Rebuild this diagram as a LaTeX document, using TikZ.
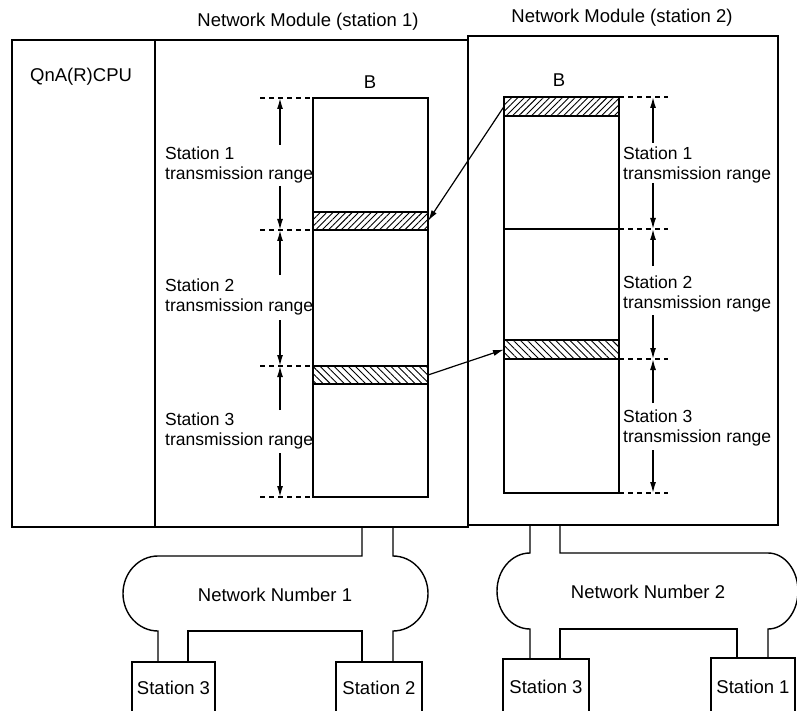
\documentclass[tikz,border=0pt]{standalone}
\usepackage{fontspec}
\setmainfont{Liberation Sans}
\usetikzlibrary{arrows.meta,patterns.meta}

\begin{document}
\begin{tikzpicture}[x=1pt,y=-1pt,
  box/.style={draw, line width=1.4pt, inner sep=0pt, outer sep=0pt},
  net/.style={line width=1.4pt},
  guide/.style={dash pattern=on 5pt off 4pt, line width=1.3pt},
  dimarrow/.style={-{Latex[length=11pt,width=6pt]}, line width=1.4pt},
  xfer/.style={-{Latex[length=11pt,width=6pt]}, line width=1.2pt},
  lbl/.style={font=\fontsize{17.5}{19.5}\selectfont, align=left, anchor=west, inner sep=0pt},
  big/.style={font=\fontsize{18.5}{22}\selectfont, inner sep=0pt},
  fwd/.style={pattern={Lines[angle=45,distance=4.5pt,line width=0.9pt]}},
  bwd/.style={pattern={Lines[angle=-45,distance=5pt,line width=0.9pt]}},
]
\useasboundingbox (0,0) rectangle (797,711);
\clip (0,0) rectangle (797,711);

% ---- titles ----
\node[big] (t1) at (308,22) {Network Module (station 1)};
\node[big] (t2) at (622,18) {Network Module (station 2)};

% ---- CPU and module frames ----
\node[box, anchor=north west, minimum width=143pt, minimum height=487pt] (cpu) at (12,40) {};
\node[box, anchor=north west, minimum width=313pt, minimum height=487pt] (mod1) at (155,40) {};
\node[box, anchor=north west, minimum width=310pt, minimum height=489pt] (mod2) at (468,36) {};
\node[big, anchor=west] (cpulbl) at (30,77) {QnA(R)CPU};

% ---- link device buffers B ----
\node[big] (ba) at (370,82) {B};
\node[big] (bb) at (559,80) {B};
\node[box, anchor=north west, minimum width=115pt, minimum height=399pt] (bufA) at (313,98) {};
\node[box, anchor=north west, minimum width=115pt, minimum height=396pt] (bufB) at (504,97) {};

% hatched ranges
\node[box, fwd, anchor=north west, minimum width=115pt, minimum height=18pt] (a1) at (313,212) {};
\node[box, bwd, anchor=north west, minimum width=115pt, minimum height=18pt] (a2) at (313,366) {};
\node[box, fwd, anchor=north west, minimum width=115pt, minimum height=19pt] (b1) at (504,97) {};
\node[box, bwd, anchor=north west, minimum width=115pt, minimum height=19pt] (b2) at (504,340) {};
\coordinate (bmidL) at (504,229);
\coordinate (bmidR) at (619,229);
\draw[net] (bmidL) -- (bmidR);

% transfers between the modules
\draw[xfer] (b1.west) -- (a1.east);
\draw[xfer] (a2.east) -- (b2.west);

% ---- range guides, module 1 ----
\foreach \y in {98,230,366,497} \draw[guide] (260,\y) -- (313,\y);
\draw[dimarrow] (280,145) -- (280,98);
\draw[dimarrow] (280,186) -- (280,230);
\draw[dimarrow] (280,275) -- (280,230);
\draw[dimarrow] (280,320) -- (280,366);
\draw[dimarrow] (280,410) -- (280,366);
\draw[dimarrow] (280,453) -- (280,497);
\node[lbl] (ra1) at (165,165) {Station 1\\transmission range};
\node[lbl] (ra2) at (165,297) {Station 2\\transmission range};
\node[lbl] (ra3) at (165,431) {Station 3\\transmission range};

% ---- range guides, module 2 ----
\foreach \y in {97,229,359,493} \draw[guide] (619,\y) -- (668,\y);
\draw[dimarrow] (653,143) -- (653,97);
\draw[dimarrow] (653,183) -- (653,229);
\draw[dimarrow] (653,266) -- (653,229);
\draw[dimarrow] (653,315) -- (653,359);
\draw[dimarrow] (653,403) -- (653,359);
\draw[dimarrow] (653,450) -- (653,493);
\node[lbl] (rb1) at (623,165) {Station 1\\transmission range};
\node[lbl] (rb2) at (623,294) {Station 2\\transmission range};
\node[lbl] (rb3) at (623,428) {Station 3\\transmission range};

% ---- stations ----
\node[box, big, anchor=north, minimum width=83pt, minimum height=52pt] (s3a) at (173.5,662) {Station 3};
\node[box, big, anchor=north, minimum width=86pt, minimum height=52pt] (s2a) at (379,662) {Station 2};
\node[box, big, anchor=north, minimum width=86pt, minimum height=56pt] (s3b) at (546,659) {Station 3};
\node[box, big, anchor=north, minimum width=84pt, minimum height=58pt] (s1b) at (753,658) {Station 1};

% ---- network 1 ----
\node[big] (n1) at (275,595) {Network Number 1};
\draw[net] (362,527) -- (362,556) -- (158,556)
  arc[start angle=90, end angle=270, x radius=35pt, y radius=37.5pt] -- (158,662);
\draw[net] (188,662) -- (188,631) -- (362,631) -- (362,662);
\draw[net] (393,527) -- (393,556)
  arc[start angle=90, end angle=-90, x radius=35pt, y radius=37.5pt] -- (393,662);

% ---- network 2 ----
\node[big] (n2) at (648,592) {Network Number 2};
\draw[net] (530,525) -- (530,553)
  arc[start angle=90, end angle=270, x radius=33pt, y radius=38pt] -- (530,659);
\draw[net] (560,525) -- (560,553) -- (768,553)
  arc[start angle=90, end angle=-90, x radius=30pt, y radius=38pt] -- (768,658);
\draw[net] (560,659) -- (560,629) -- (737,629) -- (737,658);
\end{tikzpicture}
\end{document}
